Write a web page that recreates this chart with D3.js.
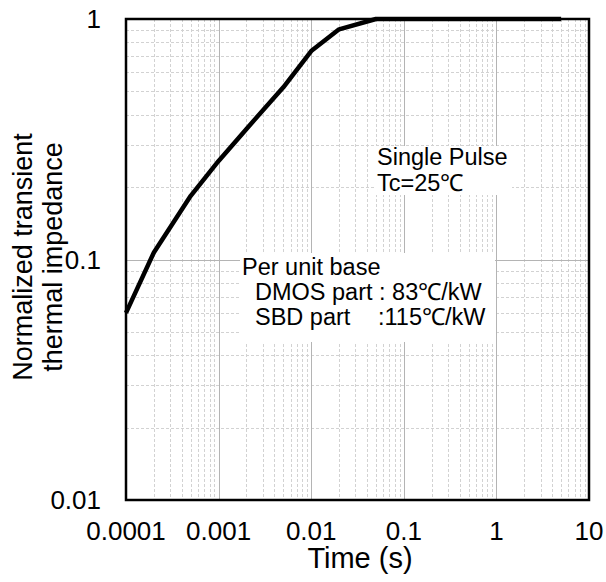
<!DOCTYPE html>
<html lang="en">
<head>
<meta charset="UTF-8">
<title>Transient thermal impedance</title>
<script src="https://cdn.jsdelivr.net/npm/d3@7"></script>
<style>
    body { margin: 0; background: #fff; }
    svg { display: block; }
    text { font-family: Arial, "Liberation Sans", sans-serif; fill: #000; }
    .grid-major { stroke: #b4b4b4; stroke-width: 1; shape-rendering: crispEdges; }
    .grid-minor { stroke: #d2d2d2; stroke-width: 1; stroke-dasharray: 3,2; shape-rendering: crispEdges; }
</style>
</head>
<body>
<svg width="606" height="582"></svg>
<script>
// data
var timeS = [0.0001, 0.0002, 0.0005, 0.001, 0.002, 0.005, 0.01, 0.02, 0.05, 0.1, 1, 5];
var zth   = [0.06, 0.107, 0.184, 0.257, 0.349, 0.52, 0.736, 0.906, 1, 1, 1, 1];

var xTickLabels = ["0.0001", "0.001", "0.01", "0.1", "1", "10"];
var yTickLabels = ["0.01", "0.1", "1"];

var svg = d3.select("svg");
var pLeft = 126, pRight = 589, pTop = 19, pBottom = 500;

var x = d3.scaleLog().domain([0.0001, 10]).range([pLeft, pRight]);
var y = d3.scaleLog().domain([0.01, 1]).range([pBottom, pTop]);

function isMajor(v) {
    var l = Math.log10(v);
    return Math.abs(l - Math.round(l)) < 1e-9;
}

// grid
var g = svg.append("g");
var xt = x.ticks().filter(function (v) { return v > 0.0001 && v < 10; });
var yt = y.ticks().filter(function (v) { return v > 0.01 && v < 1; });

g.selectAll(".vx").data(xt.filter(function (v) { return !isMajor(v); })).enter()
    .append("line").attr("class", "grid-minor")
    .attr("x1", function (d) { return Math.round(x(d)) + 0.5; })
    .attr("x2", function (d) { return Math.round(x(d)) + 0.5; })
    .attr("y1", pTop).attr("y2", pBottom);
g.selectAll(".hy").data(yt.filter(function (v) { return !isMajor(v); })).enter()
    .append("line").attr("class", "grid-minor")
    .attr("y1", function (d) { return Math.round(y(d)) + 0.5; })
    .attr("y2", function (d) { return Math.round(y(d)) + 0.5; })
    .attr("x1", pLeft).attr("x2", pRight);
g.selectAll(".vxm").data(xt.filter(isMajor)).enter()
    .append("line").attr("class", "grid-major")
    .attr("x1", function (d) { return Math.round(x(d)) + 0.5; })
    .attr("x2", function (d) { return Math.round(x(d)) + 0.5; })
    .attr("y1", pTop).attr("y2", pBottom);
g.selectAll(".hym").data(yt.filter(isMajor)).enter()
    .append("line").attr("class", "grid-major")
    .attr("y1", function (d) { return Math.round(y(d)) + 0.5; })
    .attr("y2", function (d) { return Math.round(y(d)) + 0.5; })
    .attr("x1", pLeft).attr("x2", pRight);

// annotation boxes (white, hide the grid)
svg.append("rect").attr("x", 374).attr("y", 146).attr("width", 138).attr("height", 49).attr("fill", "#fff");
svg.append("rect").attr("x", 240).attr("y", 253).attr("width", 255).attr("height", 89).attr("fill", "#fff");

// curve
var line = d3.line()
    .x(function (d) { return x(d[0]); })
    .y(function (d) { return y(d[1]); });
svg.append("path")
    .datum(d3.zip(timeS, zth))
    .attr("d", line)
    .attr("fill", "none")
    .attr("stroke", "#000")
    .attr("stroke-width", 4.5)
    .attr("stroke-linejoin", "round");

// frame
svg.append("rect")
    .attr("x", pLeft).attr("y", pTop)
    .attr("width", pRight - pLeft).attr("height", pBottom - pTop)
    .attr("fill", "none").attr("stroke", "#000").attr("stroke-width", 2.5);

// tick labels
svg.selectAll(".xl").data(xTickLabels).enter()
    .append("text")
    .attr("x", function (d) { return x(+d); })
    .attr("y", 540)
    .attr("text-anchor", "middle")
    .style("font-size", "26px")
    .text(function (d) { return d; });
svg.selectAll(".yl").data(yTickLabels).enter()
    .append("text")
    .attr("x", 101)
    .attr("y", function (d) { return y(+d) + 9; })
    .attr("text-anchor", "end")
    .style("font-size", "26px")
    .text(function (d) { return d; });

// axis titles
svg.append("text")
    .attr("x", 360).attr("y", 568)
    .attr("text-anchor", "middle")
    .style("font-size", "29px")
    .text("Time (s)");
svg.append("text")
    .attr("transform", "translate(32,257) rotate(-90)")
    .attr("text-anchor", "middle")
    .style("font-size", "27px")
    .text("Normalized transient");
svg.append("text")
    .attr("transform", "translate(62,257) rotate(-90)")
    .attr("text-anchor", "middle")
    .style("font-size", "27px")
    .text("thermal impedance");

// notes
var note = svg.append("g").style("font-size", "23.5px");
note.append("text").attr("x", 377).attr("y", 165).text("Single Pulse");
note.append("text").attr("x", 377).attr("y", 191).text("Tc=25℃");
note.append("text").attr("x", 242).attr("y", 275).text("Per unit base");
note.append("text").attr("x", 255).attr("y", 300).text("DMOS part : 83℃/kW");
var sbd = note.append("text").attr("y", 325);
sbd.append("tspan").attr("x", 255).text("SBD part");
sbd.append("tspan").attr("x", 378).text(":115℃/kW");
</script>
</body>
</html>
